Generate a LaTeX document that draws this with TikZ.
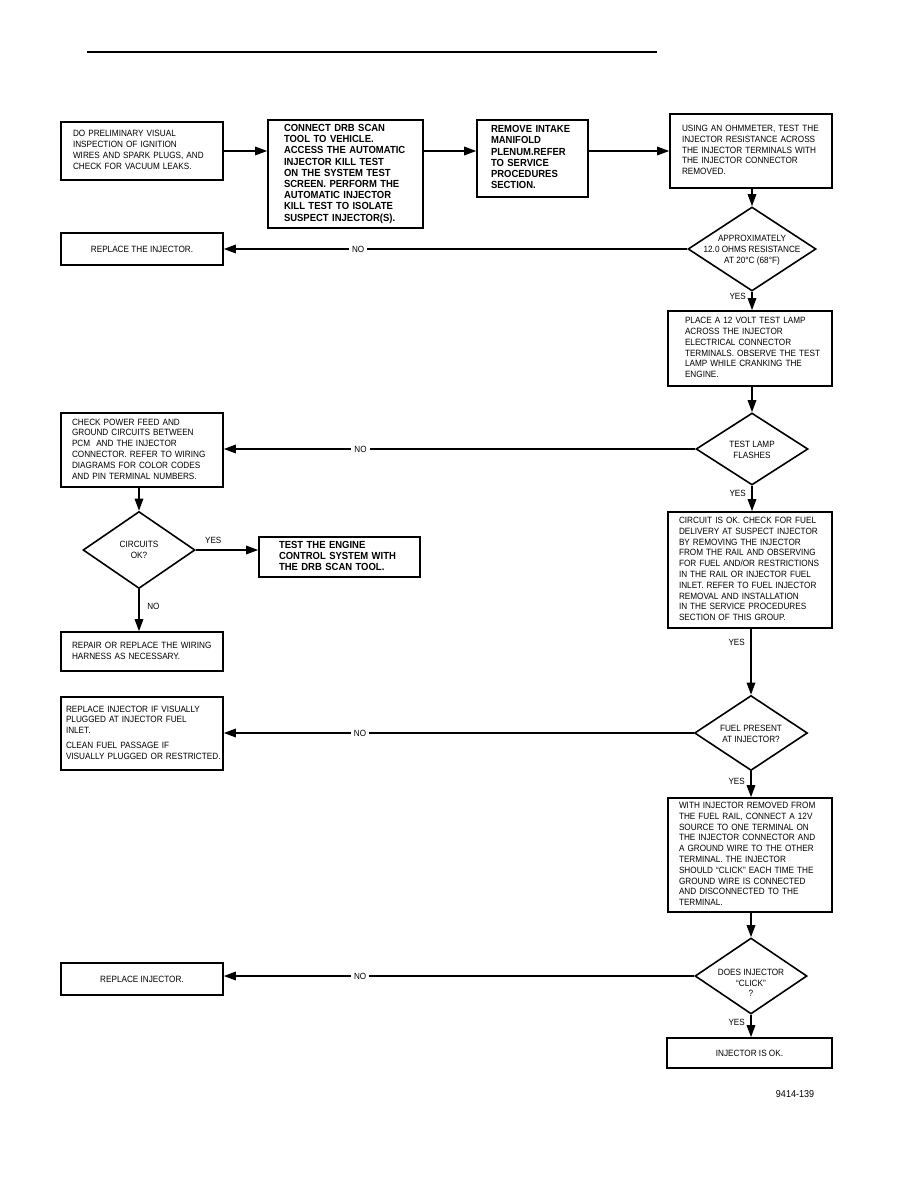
\documentclass[tikz,border=0pt]{standalone}
\usepackage{fontspec}
\setmainfont{Liberation Sans}
\newfontfamily\hdfont[FakeStretch=0.92]{Liberation Sans}
\newfontfamily\bodyfont[FakeStretch=0.9]{Liberation Sans}
\usetikzlibrary{arrows.meta,shapes.geometric}
\newcommand{\txtlines}[1]{\begin{tabular}{@{}l@{}}#1\end{tabular}}
\begin{document}
\begin{tikzpicture}[x=1pt,y=-1pt,
  box/.style={draw, line width=1.6pt, rectangle, inner ysep=0pt, align=left,
              font=\bodyfont\fontsize{9.1}{10.8}\selectfont},
  hbox/.style={box, font=\hdfont\bfseries\fontsize{10.3}{11.2}\selectfont},
  cbox/.style={draw, line width=1.6pt, rectangle, inner sep=0pt, align=center,
              font=\bodyfont\fontsize{9.1}{10.8}\selectfont},
  dia/.style={draw, line width=1.6pt, diamond, inner sep=0pt},
  dtxt/.style={align=center, font=\bodyfont\fontsize{9.1}{10.8}\selectfont, inner sep=0pt},
  arr/.style={line width=1.6pt, -{Triangle[length=12pt,width=8.5pt]}},
  lbl/.style={font=\bodyfont\fontsize{9}{9}\selectfont, inner sep=1.5pt},
  nolbl/.style={lbl, fill=white, inner xsep=3pt}]
\path[use as bounding box] (0,0) rectangle (918,1188);

% top rule
\draw[line width=2pt] (87,52) -- (657,52);

% top row
\node[box, minimum width=162pt, minimum height=58pt, inner xsep=12pt, text width=138pt] (b1) at (142,151)
  {\txtlines{DO PRELIMINARY VISUAL\\INSPECTION OF IGNITION\\WIRES AND SPARK PLUGS, AND\\CHECK FOR VACUUM LEAKS.}};
\node[hbox, minimum width=155pt, minimum height=108pt, inner xsep=16pt, text width=123pt] (b2) at (345.5,174)
  {\txtlines{CONNECT DRB SCAN\\TOOL TO VEHICLE.\\ACCESS THE AUTOMATIC\\INJECTOR KILL TEST\\ON THE SYSTEM TEST\\SCREEN. PERFORM THE\\AUTOMATIC INJECTOR\\KILL TEST TO ISOLATE\\SUSPECT INJECTOR(S).}};
\node[hbox, minimum width=111pt, minimum height=77pt, inner xsep=14pt, text width=83pt] (b3) at (532.5,158.5)
  {\txtlines{REMOVE INTAKE\\MANIFOLD\\PLENUM.REFER\\TO SERVICE\\PROCEDURES\\SECTION.}};
\node[box, minimum width=162pt, minimum height=74pt, inner xsep=12pt, text width=138pt] (b4) at (751,151)
  {\txtlines{USING AN OHMMETER, TEST THE\\INJECTOR RESISTANCE ACROSS\\THE INJECTOR TERMINALS WITH\\THE INJECTOR CONNECTOR\\REMOVED.}};

% right column
\node[dia, minimum width=128pt, minimum height=84pt] (d1) at (752,249) {};
\node[dtxt] (d1t) at (752,250) {APPROXIMATELY\\12.0 OHMS RESISTANCE\\AT 20°C (68°F)};
\node[box, minimum width=164pt, minimum height=75pt, inner xsep=17pt, text width=130pt] (p1) at (750,348.5)
  {\txtlines{PLACE A 12 VOLT TEST LAMP\\ACROSS THE INJECTOR\\ELECTRICAL CONNECTOR\\TERMINALS. OBSERVE THE TEST\\LAMP WHILE CRANKING THE\\ENGINE.}};
\node[dia, minimum width=112pt, minimum height=72pt] (d2) at (752,449) {};
\node[dtxt] (d2t) at (752,450) {TEST LAMP\\FLASHES};
\node[box, minimum width=164pt, minimum height=116pt, inner xsep=11pt, text width=142pt] (c2) at (750,570)
  {\txtlines{CIRCUIT IS OK. CHECK FOR FUEL\\DELIVERY AT SUSPECT INJECTOR\\BY REMOVING THE INJECTOR\\FROM THE RAIL AND OBSERVING\\FOR FUEL AND/OR RESTRICTIONS\\IN THE RAIL OR INJECTOR FUEL\\INLET. REFER TO FUEL INJECTOR\\REMOVAL AND INSTALLATION\\IN THE SERVICE PROCEDURES\\SECTION OF THIS GROUP.}};
\node[dia, minimum width=113pt, minimum height=75pt] (d4) at (751,733) {};
\node[dtxt] (d4t) at (751,734) {FUEL PRESENT\\AT INJECTOR?};
\node[box, minimum width=164pt, minimum height=114pt, inner xsep=11pt, text width=142pt] (w1) at (750,855)
  {\txtlines{WITH INJECTOR REMOVED FROM\\THE FUEL RAIL, CONNECT A 12V\\SOURCE TO ONE TERMINAL ON\\THE INJECTOR CONNECTOR AND\\A GROUND WIRE TO THE OTHER\\TERMINAL. THE INJECTOR\\SHOULD “CLICK” EACH TIME THE\\GROUND WIRE IS CONNECTED\\AND DISCONNECTED TO THE\\TERMINAL.}};
\node[dia, minimum width=112pt, minimum height=76pt] (d5) at (751,976) {};
\node[dtxt] (d5t) at (751,983) {DOES INJECTOR\\“CLICK”\\?};
\node[cbox, minimum width=165pt, minimum height=30pt] (ok) at (749.5,1053) {INJECTOR IS OK.};

% left column
\node[cbox, minimum width=162pt, minimum height=32pt] (r1) at (142,249) {REPLACE THE INJECTOR.};
\node[box, minimum width=162pt, minimum height=74pt, inner xsep=11pt, text width=140pt] (c1) at (142,450)
  {\txtlines{CHECK POWER FEED AND\\GROUND CIRCUITS BETWEEN\\PCM\ \ AND THE INJECTOR\\CONNECTOR. REFER TO WIRING\\DIAGRAMS FOR COLOR CODES\\AND PIN TERMINAL NUMBERS.}};
\node[dia, minimum width=112pt, minimum height=77pt] (d3) at (139,550) {};
\node[dtxt] (d3t) at (139,550) {CIRCUITS\\OK?};
\node[hbox, minimum width=161pt, minimum height=40pt, inner xsep=20pt, text width=121pt] (t1) at (339.5,557)
  {\txtlines{TEST THE ENGINE\\CONTROL SYSTEM WITH\\THE DRB SCAN TOOL.}};
\node[box, minimum width=162pt, minimum height=39pt, inner xsep=11pt, text width=140pt] (r2) at (142,651.5)
  {\txtlines{REPAIR OR REPLACE THE WIRING\\HARNESS AS NECESSARY.}};
\node[box, minimum width=162pt, minimum height=73pt, inner xsep=5pt, text width=152pt] (r3) at (142,733.5)
  {\txtlines{REPLACE INJECTOR IF VISUALLY\\PLUGGED AT INJECTOR FUEL\\INLET.\\[4pt]CLEAN FUEL PASSAGE IF\\VISUALLY PLUGGED OR RESTRICTED.}};
\node[cbox, minimum width=162pt, minimum height=32pt] (r4) at (142,979) {REPLACE INJECTOR.};

\node[font=\bodyfont\fontsize{10}{11}\selectfont, inner sep=0pt] (fig) at (795,1094) {9414-139};

% top row arrows
\draw[arr] (b1.east) -- (b1.east -| b2.west);
\draw[arr] (b2.east |- b1.east) -- (b1.east -| b3.west);
\draw[arr] (b3.east |- b1.east) -- (b1.east -| b4.west);

% right column arrows
\draw[arr] (b4.south -| d1.north) -- (d1.north);
\draw[arr] (d1.south) -- node[lbl, pos=0.25, left=4pt] {YES} (d1.south |- p1.north);
\draw[arr] (p1.south -| d2.north) -- (d2.north);
\draw[arr] (d2.south) -- node[lbl, pos=0.3, left=4pt] {YES} (d2.south |- c2.north);
\draw[arr] (c2.south -| d4.north) -- node[lbl, pos=0.2, left=4pt] {YES} (d4.north);
\draw[arr] (d4.south) -- node[lbl, pos=0.4, left=4pt] {YES} (d4.south |- w1.north);
\draw[arr] (w1.south -| d5.north) -- (d5.north);
\draw[arr] (d5.south) -- node[lbl, pos=0.32, left=4pt] {YES} (d5.south |- ok.north);

% NO branches
\draw[arr] (d1.west) -- node[nolbl, pos=0.71] {NO} (d1.west -| r1.east);
\draw[arr] (d2.west) -- node[nolbl, pos=0.71] {NO} (d2.west -| c1.east);
\draw[arr] (d4.west) -- node[nolbl, pos=0.71] {NO} (d4.west -| r3.east);
\draw[arr] (d5.west) -- node[nolbl, pos=0.71] {NO} (d5.west -| r4.east);

% left column arrows
\draw[arr] (c1.south -| d3.north) -- (d3.north);
\draw[arr] (d3.east) -- node[lbl, pos=0.28, above=4pt] {YES} (d3.east -| t1.west);
\draw[arr] (d3.south) -- node[lbl, pos=0.4, right=6pt] {NO} (d3.south |- r2.north);
\end{tikzpicture}
\end{document}
